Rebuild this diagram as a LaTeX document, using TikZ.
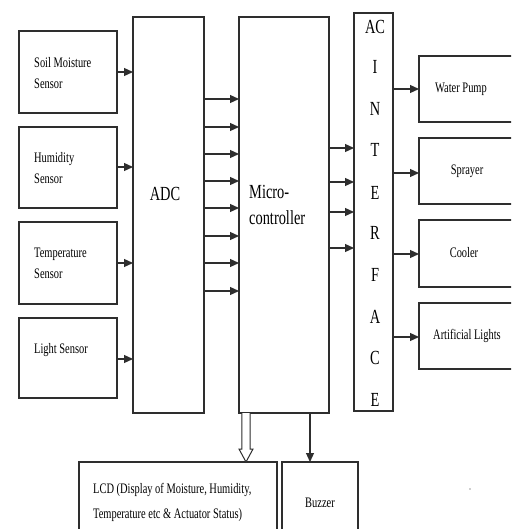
\documentclass[tikz,border=0pt]{standalone}
\usepackage{fontspec}
\setmainfont{Liberation Serif}
\newfontfamily\cond[FakeStretch=0.72]{Liberation Serif}
\usetikzlibrary{arrows.meta}
\definecolor{ln}{HTML}{2E2E2E}
\tikzset{
  box/.style={draw=ln, line width=1.2pt, inner sep=0pt, outer sep=0pt, anchor=north west, fill=none},
  arr/.style={draw=ln, line width=1.2pt, -{Triangle[length=9pt,width=8pt]}},
  small/.style={font=\cond\fontsize{14.5}{21}\selectfont, inner sep=0pt, text=black},
  big/.style={font=\cond\fontsize{20}{26}\selectfont, inner sep=0pt, text=black},
}
\begin{document}
\begin{tikzpicture}[x=1pt,y=-1pt]
\useasboundingbox (0,0) rectangle (511,529);
\clip (0,0) rectangle (511,529);
% sensor boxes
\node[box, minimum width=98pt, minimum height=82pt] (soil) at (19,31) {};
\node[box, minimum width=98pt, minimum height=81pt] (hum) at (19,127) {};
\node[box, minimum width=98pt, minimum height=82pt] (temp) at (19,222) {};
\node[box, minimum width=98pt, minimum height=80pt] (light) at (19,318) {};
% ADC, micro, AC interface
\node[box, minimum width=71pt, minimum height=396pt] (adc) at (133,17) {};
\node[box, minimum width=90pt, minimum height=396pt] (mcu) at (239,17) {};
\node[box, minimum width=39pt, minimum height=398pt] (aci) at (354,13) {};
% outputs
\node[box, minimum width=100pt, minimum height=66pt] (pump) at (419,56) {};
\node[box, minimum width=100pt, minimum height=66pt] (spray) at (419,138) {};
\node[box, minimum width=100pt, minimum height=67pt] (cool) at (419,220) {};
\node[box, minimum width=100pt, minimum height=66pt] (alight) at (419,303) {};
% bottom
\node[box, minimum width=198pt, minimum height=80pt] (lcd) at (79,462) {};
\node[box, minimum width=76pt, minimum height=80pt] (buzz) at (282,462) {};

% texts
\node[small, align=left, anchor=west] (tsoil) at (34,73) {Soil Moisture\\Sensor};
\node[small, align=left, anchor=west] (thum) at (34,168) {Humidity\\Sensor};
\node[small, align=left, anchor=west] (ttemp) at (34,263) {Temperature\\Sensor};
\node[small, align=left, anchor=west] (tlight) at (34,350) {Light Sensor};
\node[big] (tadc) at (165,194) {ADC};
\node[big, align=left, anchor=west] (tmcu) at (249,205) {Micro-\\controller};
\foreach \t/\yy [count=\i] in {AC/27,I/67,N/109,T/150,E/193,R/233,F/275,A/317,C/358,E/400}
  \node[big] (tac\i) at (375,\yy) {\t};
\node[small] (tpump) at (461,89) {Water Pump};
\node[small] (tspray) at (467,171) {Sprayer};
\node[small] (tcool) at (464,253) {Cooler};
\node[small] (talight) at (467,336) {Artificial Lights};
\node[small, align=left, anchor=west, font=\cond\fontsize{14.5}{25}\selectfont] (tlcd) at (93,502) {LCD (Display of Moisture, Humidity,\\Temperature etc \& Actuator Status)};
\node[small] (tbuzz) at (320,503) {Buzzer};

% sensor -> ADC
\foreach \n/\yy in {soil/72,hum/167,temp/263,light/359}
  \draw[arr] (\n.east |- 0,\yy) -- (adc.west |- 0,\yy);
% ADC -> micro
\foreach \yy in {99,127,154,181,208,236,263,291}
  \draw[arr] (adc.east |- 0,\yy) -- (mcu.west |- 0,\yy);
% micro -> AC
\foreach \yy in {148,182,212,248}
  \draw[arr] (mcu.east |- 0,\yy) -- (aci.west |- 0,\yy);
% AC -> outputs
\draw[arr] (aci.east |- 0,89) -- (pump.west |- 0,89);
\draw[arr] (aci.east |- 0,173) -- (spray.west |- 0,173);
\draw[arr] (aci.east |- 0,254) -- (cool.west |- 0,254);
\draw[arr] (aci.east |- 0,337) -- (alight.west |- 0,337);
% micro -> buzzer
\draw[arr] (mcu.south -| 310,0) -- (buzz.north -| 310,0);
% micro -> LCD (hollow arrow)
\coordinate (ha) at (mcu.south -| 246,0);
\coordinate (hb) at (lcd.north -| 246,0);
\draw[ln, line width=1pt, fill=white, line join=miter]
  ([xshift=-4.2pt]ha) -- ([xshift=-4.2pt,yshift=13pt]hb) -- ([xshift=-7pt,yshift=13pt]hb)
  -- (hb) -- ([xshift=7pt,yshift=13pt]hb) -- ([xshift=4.2pt,yshift=13pt]hb) -- ([xshift=4.2pt]ha);
% stray dot
\fill[ln] (470,489) circle (0.7pt);
\end{tikzpicture}
\end{document}
